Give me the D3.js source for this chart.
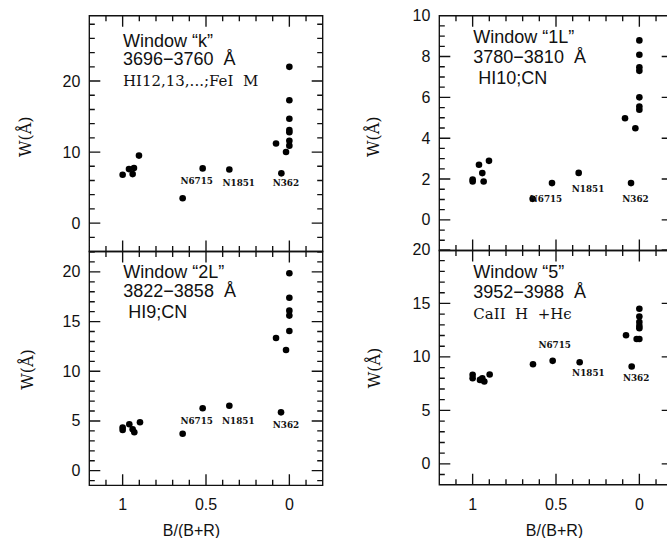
<!DOCTYPE html>
<html>
<head>
<meta charset="utf-8">
<script src="https://cdn.jsdelivr.net/npm/d3@7"></script>
<style>
  html, body { margin: 0; padding: 0; background: #fff; }
  svg { display: block; }
</style>
</head>
<body>
<svg id="fig" width="667" height="538"></svg>
<script>
// Colour index B/(B+R) on x, equivalent width W(Å) on y
const xDomain = [1.2, -0.2];
const xMajorTicks = [1, 0.5, 0];
const xMinorTicks = [1.1, 0.9, 0.8, 0.7, 0.6, 0.4, 0.3, 0.2, 0.1, -0.1];
const xTickLabels = ["1", "0.5", "0"];
const clusterNames = ["N6715", "N1851", "N362"];

// Window "k"
const kPoints = [[1.00,6.8],[0.962,7.6],[0.94,6.9],[0.932,7.75],[0.902,9.5],[0.64,3.5],
  [0.08,11.2],[0.02,10.0],[0,22.0],[0,17.3],[0,14.7],[0,13.1],[0,12.8],[0,11.6],[0,10.9]];
const kNamed = [[0.52,7.7],[0.36,7.55],[0.048,7.0]];
const kYTicks = [0, 10, 20];

// Window "1L"
const l1Points = [[1,1.98],[1,1.88],[0.962,2.70],[0.942,2.29],[0.934,1.88],[0.902,2.89],[0.64,1.03],
  [0.086,4.98],[0.024,4.49],[0,8.79],[0,8.09],[0,7.47],[0,7.30],[0,6.0],[0,5.55],[0,5.39]];
const l1Named = [[0.524,1.80],[0.364,2.30],[0.05,1.80]];
const l1YTicks = [0, 2, 4, 6, 8, 10];

// Window "2L"
const l2Points = [[1,4.35],[1,4.1],[0.96,4.67],[0.94,4.16],[0.93,3.86],[0.896,4.87],[0.64,3.72],
  [0.08,13.35],[0.02,12.14],[0,19.86],[0,17.4],[0,16.1],[0,15.6],[0,14.05]];
const l2Named = [[0.52,6.28],[0.36,6.54],[0.05,5.87]];
const l2YTicks = [0, 5, 10, 15, 20];

// Window "5"
const w5Points = [[1,8.32],[1,8.0],[0.956,7.85],[0.942,8.0],[0.93,7.7],[0.898,8.35],[0.638,9.32],
  [0.08,12.03],[0.016,11.68],[0,14.5],[0,13.77],[0,13.27],[0,12.9],[0,12.68],[0,11.68]];
const w5Named = [[0.52,9.63],[0.358,9.5],[0.046,9.1]];
const w5YTicks = [0, 5, 10, 15, 20];

const panels = [
  { x0: 89.3, y0: 15.7, y1: 251.5, yDomain: [-4, 29.2], minor: 2, yTicks: kYTicks,
    points: kPoints, named: kNamed, bottomLabels: false,
    lines: [["Window \u201ck\u201d", "sans"], ["3696\u22123760\u00a0 \u00c5", "sans"], ["HI12,13,...;FeI\u00a0 M", "serif"]],
    textX: 33.6, textY: [31, 49.5, 70.5],
    labelOff: [[-6, 15.3], [9.4, 16.3], [4.5, 12.7]], yTitle: [25.7, 136.7] },
  { x0: 439.3, y0: 15.7, y1: 250.5, yDomain: [-1.5, 10], minor: 0.5, yTicks: l1YTicks,
    points: l1Points, named: l1Named, bottomLabels: false,
    lines: [["Window \u201c1L\u201d", "sans"], ["3780\u22123810\u00a0 \u00c5", "sans"], ["\u00a0HI10;CN", "sans"]],
    textX: 34, textY: [27.6, 47.6, 68.3],
    labelOff: [[-6, 18.7], [9.4, 19], [4.5, 18.7]], yTitle: [373.3, 136.7] },
  { x0: 89.3, y0: 251.5, y1: 485.3, yDomain: [-1.47, 22.05], minor: 1, yTicks: l2YTicks,
    points: l2Points, named: l2Named, bottomLabels: true, titleX: 191.5,
    lines: [["Window \u201c2L\u201d", "sans"], ["3822\u22123858\u00a0 \u00c5", "sans"], ["\u00a0HI9;CN", "sans"]],
    textX: 34, textY: [26.8, 45.2, 66.8],
    labelOff: [[-6, 16], [9, 18.3], [5, 16]], yTitle: [27, 369.5] },
  { x0: 439.3, y0: 250.5, y1: 484.7, yDomain: [-1.95, 19.95], minor: 1, yTicks: w5YTicks,
    points: w5Points, named: w5Named, bottomLabels: true, titleX: 554.5,
    lines: [["Window \u201c5\u201d", "sans"], ["3952\u22123988\u00a0 \u00c5", "sans"], ["CaII\u00a0 H\u00a0 +H\u03f5", "serif"]],
    textX: 34, textY: [27.8, 47.8, 68.8],
    labelOff: [[2, -12.7], [8.7, 13.4], [4.4, 14]], yTitle: [374, 368] }
];

const PANEL_W = 233.4;
const MAJOR_LEN = 11, MINOR_LEN = 5.5;
const SANS = "'Liberation Sans', Arial, Helvetica, sans-serif";
const SERIF = "'DejaVu Serif', serif";
const INK = "#111";
const svg = d3.select("#fig");

panels.forEach(p => {
  const x = d3.scaleLinear().domain(xDomain).range([p.x0, p.x0 + PANEL_W]);
  const y = d3.scaleLinear().domain(p.yDomain).range([p.y1, p.y0]);
  const xL = p.x0, xR = p.x0 + PANEL_W;
  const g = svg.append("g");

  const [ylo, yhi] = p.yDomain;
  const yMinor = d3.range(Math.ceil(ylo / p.minor), Math.floor(yhi / p.minor) + 1)
    .map(i => +(i * p.minor).toFixed(4))
    .filter(v => !p.yTicks.includes(v));

  // frame outline plus inward ticks on every side, as one stroked outline
  let d = `M${xL},${p.y0}H${xR}V${p.y1}H${xL}Z`;
  const xSpecs = xMinorTicks.map(v => [v, MINOR_LEN]).concat(xMajorTicks.map(v => [v, MAJOR_LEN]));
  const ySpecs = yMinor.map(v => [v, MINOR_LEN]).concat(p.yTicks.map(v => [v, MAJOR_LEN]));
  xSpecs.forEach(([v, len]) => {
    const px = x(v).toFixed(2);
    d += `M${px},${p.y0}v${len}M${px},${p.y1}v${-len}`;
  });
  ySpecs.forEach(([v, len]) => {
    const py = y(v).toFixed(2);
    d += `M${xL},${py}h${len}M${xR},${py}h${-len}`;
  });
  g.append("path").attr("d", d)
    .attr("fill", "none").attr("stroke", INK).attr("stroke-width", 1.35);

  // y tick labels
  g.selectAll("text.yl").data(p.yTicks).join("text")
    .attr("class", "yl")
    .attr("x", xL - 9).attr("y", v => y(v))
    .attr("text-anchor", "end").attr("dominant-baseline", "central")
    .attr("fill", INK).attr("font-family", SANS).attr("font-size", 16)
    .text(d3.format("d"));

  // x tick labels and title on the lower panels
  if (p.bottomLabels) {
    g.selectAll("text.xl").data(xMajorTicks).join("text")
      .attr("class", "xl")
      .attr("x", v => x(v)).attr("y", p.y1 + 25)
      .attr("text-anchor", "middle")
      .attr("fill", INK).attr("font-family", SANS).attr("font-size", 16)
      .text((v, i) => xTickLabels[i]);
    g.append("text").attr("x", p.titleX).attr("y", 536)
      .attr("text-anchor", "middle").attr("fill", INK)
      .attr("font-family", SANS).attr("font-size", 16)
      .text("B/(B+R)");
  }

  // y title
  g.append("text")
    .attr("transform", `translate(${p.yTitle[0]},${p.yTitle[1]}) rotate(-90)`)
    .attr("text-anchor", "middle").attr("dominant-baseline", "central")
    .attr("fill", INK).attr("font-family", SERIF).attr("font-size", 16)
    .text("W(\u00c5)");

  // window description
  p.lines.forEach(([t, face], i) => {
    g.append("text").attr("x", xL + p.textX).attr("y", p.y0 + p.textY[i])
      .attr("fill", INK)
      .attr("font-family", face === "sans" ? SANS : SERIF)
      .attr("font-size", face === "sans" ? 18 : 15)
      .text(t);
  });

  // points
  g.selectAll("circle.pt").data(p.points.concat(p.named)).join("circle")
    .attr("class", "pt")
    .attr("cx", pt => x(pt[0])).attr("cy", pt => y(pt[1])).attr("r", 3.3)
    .attr("fill", "#000");

  // cluster names
  g.selectAll("text.nm").data(p.named).join("text")
    .attr("class", "nm")
    .attr("x", (pt, i) => x(pt[0]) + p.labelOff[i][0])
    .attr("y", (pt, i) => y(pt[1]) + p.labelOff[i][1])
    .attr("text-anchor", "middle").attr("fill", INK)
    .attr("font-family", SERIF).attr("font-weight", "bold").attr("font-size", 8.8)
    .text((pt, i) => clusterNames[i]);
});
</script>
</body>
</html>
